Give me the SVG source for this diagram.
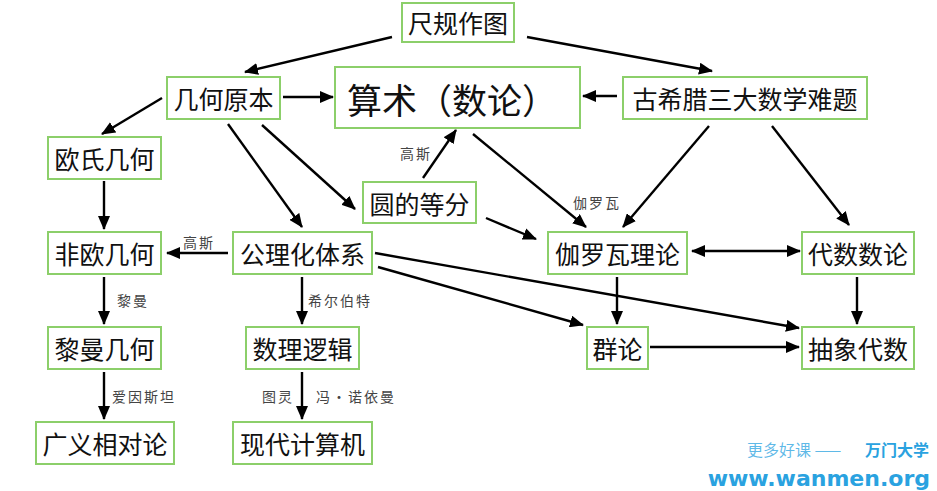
<svg xmlns="http://www.w3.org/2000/svg" width="937" height="491" viewBox="0 0 937 491">
<style>
.box{fill:#fff;stroke:#8ccf6a;stroke-width:2}
.t{font-family:"Noto Sans CJK SC","Noto Sans",sans-serif;font-size:25px;fill:#111;text-anchor:middle;dominant-baseline:central}
.big{font-size:35px}
.lbl{font-family:"Noto Sans CJK SC","Noto Sans",sans-serif;font-size:14px;letter-spacing:2px;fill:#444;dominant-baseline:central}
.c{stroke:#000;stroke-width:2.4;fill:none;marker-end:url(#ah)}
.wm{font-family:"Noto Sans CJK SC","Noto Sans",sans-serif;fill:#2aa2e0}
</style>
<defs>
<marker id="ah" markerUnits="userSpaceOnUse" markerWidth="14" markerHeight="12" refX="13" refY="6" orient="auto"><path d="M0,0 L14,6 L0,12 Z" fill="#000"/></marker>
<marker id="as" markerUnits="userSpaceOnUse" markerWidth="14" markerHeight="12" refX="1" refY="6" orient="auto"><path d="M14,0 L0,6 L14,12 Z" fill="#000"/></marker>
</defs>
<rect width="937" height="491" fill="#fff"/>
<g id="connectors">
<line class="c" x1="392" y1="37" x2="245" y2="72"/>
<line class="c" x1="527" y1="37" x2="712" y2="71"/>
<line class="c" x1="283" y1="97" x2="333" y2="97"/>
<line class="c" x1="617" y1="96" x2="583" y2="96"/>
<line class="c" x1="162" y1="98" x2="102" y2="134"/>
<line class="c" x1="228" y1="124" x2="302" y2="227"/>
<line class="c" x1="262" y1="125" x2="355" y2="209"/>
<line class="c" x1="423" y1="178" x2="456" y2="130"/>
<line class="c" x1="473" y1="134" x2="586" y2="227"/>
<line class="c" x1="709" y1="126" x2="623" y2="227"/>
<line class="c" x1="772" y1="126" x2="849" y2="225"/>
<line class="c" x1="486" y1="218" x2="536" y2="239"/>
<line class="c" x1="692" y1="251" x2="800" y2="251" marker-start="url(#as)"/>
<line class="c" x1="104" y1="181" x2="104" y2="229"/>
<line class="c" x1="228" y1="253" x2="167" y2="253"/>
<line class="c" x1="104" y1="277" x2="104" y2="324"/>
<line class="c" x1="302" y1="277" x2="302" y2="324"/>
<line class="c" x1="104" y1="372" x2="104" y2="419"/>
<line class="c" x1="302" y1="372" x2="302" y2="419"/>
<line class="c" x1="375" y1="253" x2="799" y2="328"/>
<line class="c" x1="378" y1="267" x2="583" y2="325"/>
<line class="c" x1="617" y1="277" x2="617" y2="324"/>
<line class="c" x1="857" y1="277" x2="857" y2="324"/>
<line class="c" x1="650" y1="347" x2="799" y2="347"/>
<text class="lbl" x="400" y="153">高斯</text>
<text class="lbl" x="573" y="202">伽罗瓦</text>
<text class="lbl" x="183" y="242">高斯</text>
<text class="lbl" x="117" y="300">黎曼</text>
<text class="lbl" x="308" y="300">希尔伯特</text>
<text class="lbl" x="112" y="396">爱因斯坦</text>
<text class="lbl" x="262" y="396">图灵</text>
<text class="lbl" x="316" y="396">冯·诺依曼</text>
</g>
<g id="n_chigui"><rect class="box" x="402" y="3" width="112" height="39"/><text class="t" x="458" y="22">尺规作图</text></g>
<g id="n_jihe"><rect class="box" x="167" y="77" width="113" height="42"/><text class="t" x="223.5" y="98">几何原本</text></g>
<g id="n_suanshu"><rect class="box" x="335" y="67" width="245" height="61"/><text class="t big" x="452" y="98">算术（数论）</text></g>
<g id="n_gu"><rect class="box" x="623" y="77" width="244" height="42"/><text class="t" x="745" y="98">古希腊三大数学难题</text></g>
<g id="n_oushi"><rect class="box" x="48" y="137" width="113" height="42"/><text class="t" x="104.5" y="158">欧氏几何</text></g>
<g id="n_yuan"><rect class="box" x="363" y="182" width="113" height="41"/><text class="t" x="419.5" y="202.5">圆的等分</text></g>
<g id="n_feiou"><rect class="box" x="48" y="232" width="113" height="42"/><text class="t" x="104.5" y="253">非欧几何</text></g>
<g id="n_gongli"><rect class="box" x="233" y="232" width="139" height="42"/><text class="t" x="302.5" y="253">公理化体系</text></g>
<g id="n_jialuowa"><rect class="box" x="548" y="232" width="139" height="42"/><text class="t" x="617.5" y="253">伽罗瓦理论</text></g>
<g id="n_daishu"><rect class="box" x="802" y="232" width="112" height="42"/><text class="t" x="858" y="253">代数数论</text></g>
<g id="n_liman"><rect class="box" x="48" y="327" width="113" height="42"/><text class="t" x="104.5" y="348">黎曼几何</text></g>
<g id="n_shuli"><rect class="box" x="246" y="327" width="113" height="42"/><text class="t" x="302.5" y="348">数理逻辑</text></g>
<g id="n_qun"><rect class="box" x="587" y="327" width="61" height="42"/><text class="t" x="617.5" y="348">群论</text></g>
<g id="n_chouxiang"><rect class="box" x="802" y="327" width="112" height="42"/><text class="t" x="858" y="348">抽象代数</text></g>
<g id="n_guangyi"><rect class="box" x="36" y="422" width="138" height="42"/><text class="t" x="105" y="443">广义相对论</text></g>
<g id="n_xiandai"><rect class="box" x="233" y="422" width="139" height="42"/><text class="t" x="302.5" y="443">现代计算机</text></g>
<g id="watermark">
<text class="wm" x="747" y="456" font-size="16" fill-opacity="0.75">更多好课 ——</text>
<text class="wm" x="929" y="456" font-size="16" font-weight="bold" text-anchor="end">万门大学</text>
<text class="wm" x="930" y="486" font-size="22" font-weight="bold" text-anchor="end" style="font-family:'DejaVu Sans',sans-serif">www.wanmen.org</text>
</g>
</svg>
